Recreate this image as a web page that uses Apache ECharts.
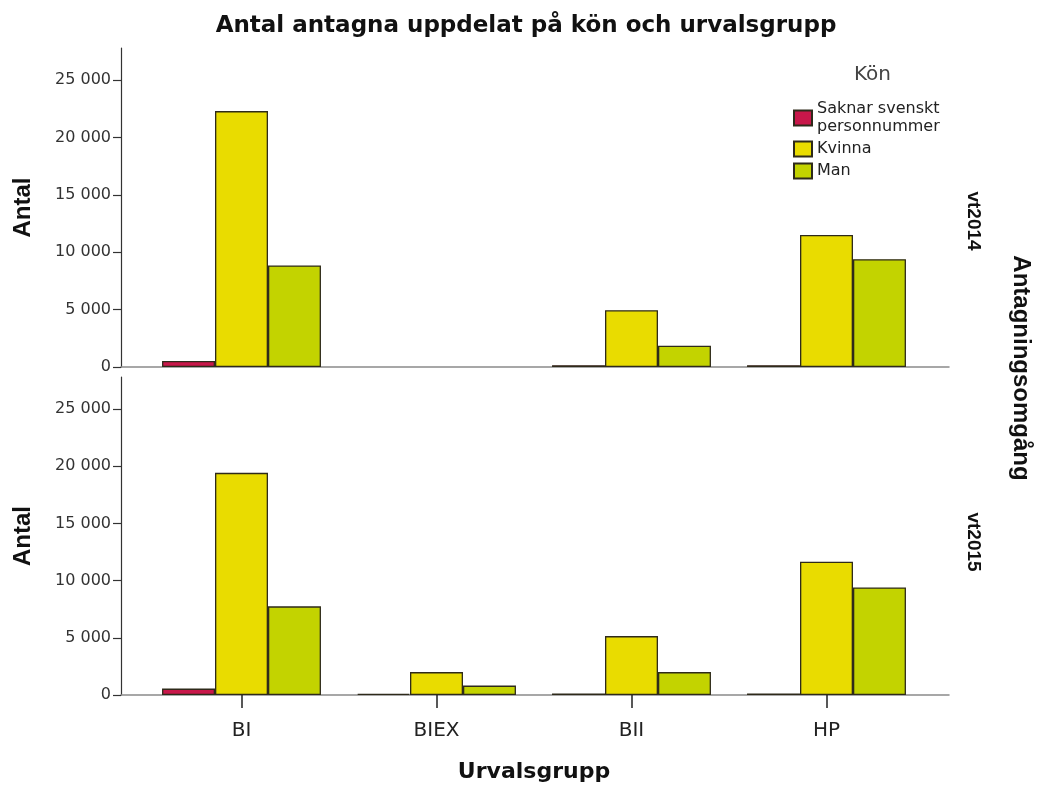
<!DOCTYPE html>
<html lang="sv">
<head>
    <meta charset="UTF-8">
    <title>Antal antagna</title>
    <script src="https://cdn.jsdelivr.net/npm/echarts@6/dist/echarts.min.js"></script>
    <style>
        html, body { margin: 0; padding: 0; background: #fff; }
        #main { width: 1039px; height: 785px; }
    </style>
</head>
<body>
    <div id="main"></div>
    <script>
        // kategorier och värden
        var groups = ['BI', 'BIEX', 'BII', 'HP'];
        var kon = ['Saknar svenskt personnummer', 'Kvinna', 'Man'];
        var yTicks = [0, 5000, 10000, 15000, 20000, 25000];

        // vt2014 (BIEX saknas)
        var saknar2014 = [520, null, 160, 160];
        var kvinna2014 = [22300, null, 4950, 11500];
        var man2014 = [8850, null, 1850, 9400];

        // vt2015
        var saknar2015 = [560, 110, 130, 130];
        var kvinna2015 = [19420, 2000, 5150, 11650];
        var man2015 = [7750, 820, 2000, 9400];

        var colors = ['#c8174a', '#e9dc00', '#c3d300'];
        var font = 'DejaVu Sans';
        var yMax = 27800;

        function fmt(v) {
            return String(v).replace(/\B(?=(\d{3})+(?!\d))/g, ' ');
        }

        var panels = [
            { top: 48, height: 319, data: [saknar2014, kvinna2014, man2014] },
            { top: 377, height: 318, data: [saknar2015, kvinna2015, man2015] }
        ];

        var grid = [], xAxis = [], yAxis = [], series = [];
        panels.forEach(function (p, i) {
            var last = i === panels.length - 1;
            // yttre grid: axellinjer och y-etiketter
            grid.push({ left: 121, right: 90, top: p.top, height: p.height });
            // inre grid: staplarna
            grid.push({ left: 144, right: 115, top: p.top, height: p.height });

            xAxis.push({
                gridIndex: i * 2, type: 'value', min: 0, max: 1,
                axisLine: { show: true, lineStyle: { color: '#8a8a8a', width: 1.5 } },
                axisTick: { show: false }, axisLabel: { show: false }, splitLine: { show: false }
            });
            xAxis.push({
                gridIndex: i * 2 + 1, type: 'category', data: groups,
                axisLine: { show: false },
                axisTick: { show: last, alignWithLabel: true, length: 13, lineStyle: { color: '#222', width: 1.5 } },
                axisLabel: { show: last, fontFamily: font, fontSize: 20, color: '#222', margin: 26 },
                name: last ? 'Urvalsgrupp' : '',
                nameLocation: 'middle', nameGap: 66,
                nameTextStyle: { fontFamily: font, fontSize: 22, fontWeight: 'bold', color: '#111' }
            });

            yAxis.push({
                gridIndex: i * 2, type: 'value', min: 0, max: yMax,
                axisLine: { show: true, lineStyle: { color: '#333', width: 1.2 } },
                axisTick: { show: true, length: 8, customValues: yTicks, lineStyle: { color: '#333', width: 1.2 } },
                axisLabel: {
                    customValues: yTicks, fontFamily: font, fontSize: 16, color: '#333', margin: 10,
                    formatter: function (v) { return fmt(v); }
                },
                splitLine: { show: false },
                name: 'Antal', nameLocation: 'middle', nameRotate: 90, nameGap: 86,
                nameTextStyle: { fontFamily: 'Liberation Sans', fontSize: 24, fontWeight: 'bold', color: '#111' }
            });
            yAxis.push({
                gridIndex: i * 2 + 1, type: 'value', min: 0, max: yMax, show: false
            });

            p.data.forEach(function (vals, k) {
                series.push({
                    name: kon[k], type: 'bar',
                    xAxisIndex: i * 2 + 1, yAxisIndex: i * 2 + 1,
                    barGap: 0, barCategoryGap: '18.5%',
                    itemStyle: { color: colors[k], borderColor: '#2e2a1a', borderWidth: 1.3 },
                    emphasis: { disabled: true },
                    data: vals
                });
            });
        });

        var option = {
            backgroundColor: '#fff',
            animation: false,
            title: [{
                text: 'Antal antagna uppdelat på kön och urvalsgrupp',
                left: 521, top: 10, textAlign: 'center',
                textStyle: { fontFamily: font, fontSize: 23, fontWeight: 'bold', color: '#111' }
            }, {
                text: 'Kön', left: 849, top: 60,
                textStyle: { fontFamily: font, fontSize: 20, fontWeight: 'normal', color: '#444' }
            }],
            legend: {
                data: kon, orient: 'vertical', left: 788, top: 95,
                itemWidth: 18, itemHeight: 15, itemGap: 4, icon: 'rect',
                selectedMode: false,
                formatter: function (n) {
                    return n === kon[0] ? 'Saknar svenskt\npersonnummer' : n;
                },
                textStyle: { fontFamily: font, fontSize: 16, color: '#222', lineHeight: 18 }
            },
            graphic: [
                { type: 'text', x: 973, y: 221, rotation: -Math.PI / 2,
                  style: { text: 'vt2014', font: 'bold 19px "Liberation Sans"', fill: '#111', align: 'center', verticalAlign: 'middle' } },
                { type: 'text', x: 973, y: 542, rotation: -Math.PI / 2,
                  style: { text: 'vt2015', font: 'bold 19px "Liberation Sans"', fill: '#111', align: 'center', verticalAlign: 'middle' } },
                { type: 'text', x: 1021, y: 368, rotation: -Math.PI / 2,
                  style: { text: 'Antagningsomgång', font: 'bold 24px "Liberation Sans"', fill: '#111', align: 'center', verticalAlign: 'middle' } }
            ],
            grid: grid, xAxis: xAxis, yAxis: yAxis,
            series: series
        };

        var myChart = echarts.init(document.getElementById('main'));
        myChart.setOption(option);
    </script>
</body>
</html>
